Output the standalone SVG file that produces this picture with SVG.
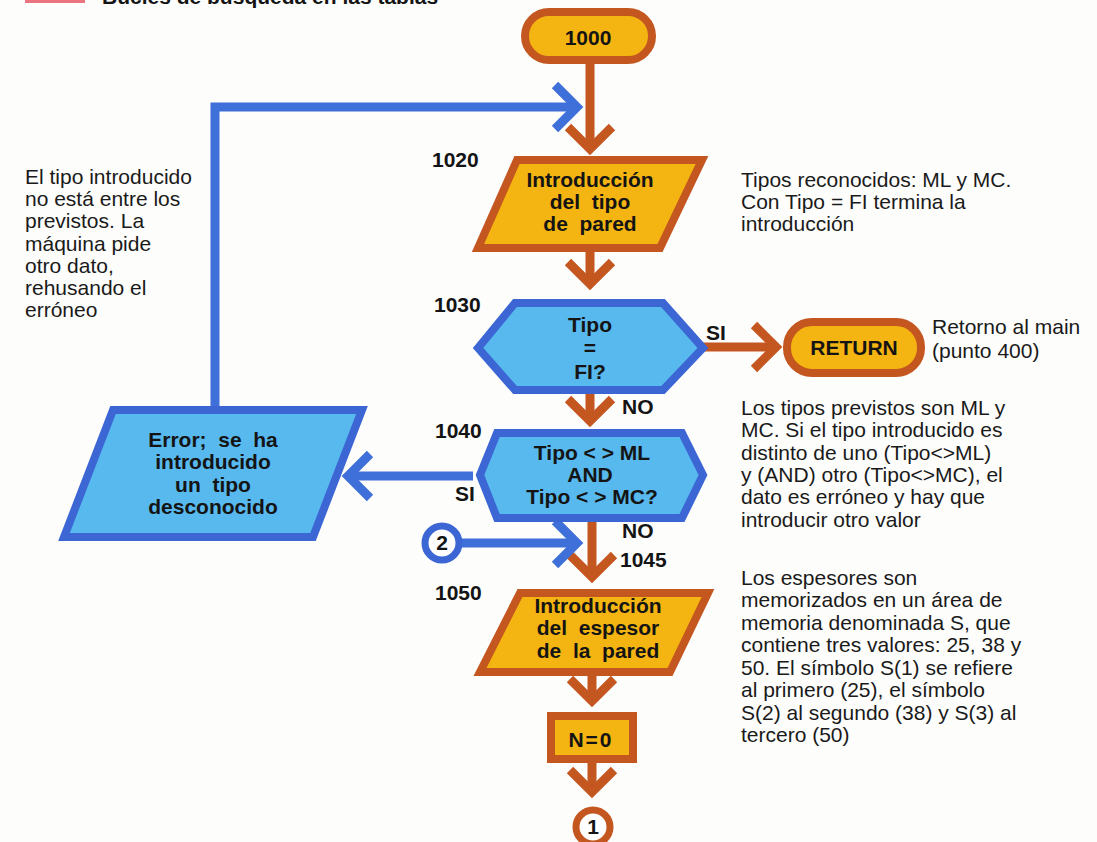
<svg xmlns="http://www.w3.org/2000/svg" width="1097" height="842" viewBox="0 0 1097 842">
  <defs>
    <style>
      .bg { fill: #fdfdfc; }
      .term { fill: #f4b512; stroke: #c4561f; stroke-width: 8; }
      .io { fill: #f4b512; stroke: #c4561f; stroke-width: 8; stroke-linejoin: miter; }
      .proc { fill: #f4b512; stroke: #c4561f; stroke-width: 8; }
      .dec { fill: #58b9ee; stroke: #3c66d4; stroke-width: 8; stroke-linejoin: miter; }
      .err { fill: #58b9ee; stroke: #3c66d4; stroke-width: 8; stroke-linejoin: miter; }
      .conn-b { fill: #ffffff; stroke: #c4561f; stroke-width: 7; }
      .conn-u { fill: #ffffff; stroke: #3c66d4; stroke-width: 7; }
      .flow { fill: none; stroke: #c4561f; stroke-width: 9; stroke-linejoin: miter; }
      .flow-blue { fill: none; stroke: #3f6fd8; stroke-width: 9; stroke-linejoin: miter; }
      .lbl { font-family: "Liberation Sans", Arial, sans-serif; font-weight: bold; font-size: 21px; fill: #141414; white-space: pre; }
      .ctr { text-anchor: middle; }
      .note { font-family: "Liberation Sans", Arial, sans-serif; font-size: 21px; fill: #1a1a1a; }
    </style>
    <marker id="head-brown" markerUnits="userSpaceOnUse" orient="auto" refX="0" refY="0" markerWidth="60" markerHeight="60" viewBox="-30 -30 60 60" overflow="visible">
      <path d="M-22,-22 L0,0 L-22,22" fill="none" stroke="#c4561f" stroke-width="9" stroke-linejoin="miter"/>
    </marker>
    <marker id="head-blue" markerUnits="userSpaceOnUse" orient="auto" refX="0" refY="0" markerWidth="60" markerHeight="60" viewBox="-30 -30 60 60" overflow="visible">
      <path d="M-22,-22 L0,0 L-22,22" fill="none" stroke="#3f6fd8" stroke-width="9" stroke-linejoin="miter"/>
    </marker>
  </defs>

  <rect class="bg" x="0" y="0" width="1097" height="842"/>

  <!-- page header, running off the top edge -->
  <g id="header">
    <rect x="25" y="-6" width="60" height="9" fill="#ea7480"/>
    <text class="lbl" x="102" y="4" font-size="20">Bucles de búsqueda en las tablas</text>
  </g>

  <!-- connectors -->
  <g id="connectors">
    <path class="flow" d="M590,60 L590,149" marker-end="url(#head-brown)"/>
    <path class="flow-blue" d="M215,410 L215,107 L577,107" marker-end="url(#head-blue)"/>
    <path class="flow" d="M590,248 L590,284" marker-end="url(#head-brown)"/>
    <path class="flow" d="M703,347 L776,347" marker-end="url(#head-brown)"/>
    <path class="flow" d="M590,390 L590,421" marker-end="url(#head-brown)"/>
    <path class="flow-blue" d="M473,476 L348,476" marker-end="url(#head-blue)"/>
    <path class="flow" d="M592,518 L592,577" marker-end="url(#head-brown)"/>
    <path class="flow-blue" d="M462,543 L577,543" marker-end="url(#head-blue)"/>
    <path class="flow" d="M592,672 L592,701" marker-end="url(#head-brown)"/>
    <path class="flow" d="M592,763 L592,792" marker-end="url(#head-brown)"/>
  </g>

  <!-- connector labels -->
  <g id="edge-labels">
    <text class="lbl" x="706" y="340">SI</text>
    <text class="lbl" x="622" y="414">NO</text>
    <text class="lbl" x="455" y="501">SI</text>
    <text class="lbl" x="622" y="538">NO</text>
  </g>

  <!-- line numbers -->
  <g id="line-numbers">
    <text class="lbl" x="432" y="167">1020</text>
    <text class="lbl" x="434" y="312">1030</text>
    <text class="lbl" x="435" y="438">1040</text>
    <text class="lbl" x="620" y="567">1045</text>
    <text class="lbl" x="435" y="600">1050</text>
  </g>

  <g id="n1000">
    <rect class="term" x="525" y="12" width="127" height="48" rx="24"/>
    <text class="lbl ctr" x="588" y="45">1000</text>
  </g>

  <g id="n1020">
    <polygon class="io" points="517,160 702,160 660,248 478,248"/>
    <text class="lbl ctr" x="590" y="187">Introducción</text>
    <text class="lbl ctr" x="590" y="209">del  tipo</text>
    <text class="lbl ctr" x="590" y="231">de  pared</text>
  </g>

  <g id="n1030">
    <polygon class="dec" points="478,348 515,303 663,303 703,348 663,390 515,390"/>
    <text class="lbl ctr" x="590" y="332">Tipo</text>
    <text class="lbl ctr" x="590" y="355" font-size="23">=</text>
    <text class="lbl ctr" x="590" y="379">FI?</text>
  </g>

  <g id="return">
    <rect class="term" x="787" y="322" width="134" height="51" rx="25"/>
    <text class="lbl ctr" x="854" y="355">RETURN</text>
  </g>

  <g id="n1040">
    <polygon class="dec" points="480,475 497,433 682,433 703,475 682,518 497,518"/>
    <text class="lbl ctr" x="592" y="460">Tipo &lt; &gt; ML</text>
    <text class="lbl ctr" x="590" y="482">AND</text>
    <text class="lbl ctr" x="592" y="504">Tipo &lt; &gt; MC?</text>
  </g>

  <g id="error">
    <polygon class="err" points="113,410 362,410 313,537 64,537"/>
    <text class="lbl ctr" x="213" y="447">Error;  se  ha</text>
    <text class="lbl ctr" x="213" y="469">introducido</text>
    <text class="lbl ctr" x="213" y="492">un  tipo</text>
    <text class="lbl ctr" x="213" y="514">desconocido</text>
  </g>

  <g id="c2">
    <circle class="conn-u" cx="442" cy="543" r="17"/>
    <text class="lbl ctr" x="442" y="550">2</text>
  </g>

  <g id="n1050">
    <polygon class="io" points="520,593 708,593 670,672 480,672"/>
    <text class="lbl ctr" x="598" y="613">Introducción</text>
    <text class="lbl ctr" x="598" y="635">del  espesor</text>
    <text class="lbl ctr" x="598" y="658">de  la  pared</text>
  </g>

  <g id="n0">
    <rect class="proc" x="551" y="716" width="82" height="43"/>
    <text class="lbl ctr" x="591" y="747" letter-spacing="2">N=0</text>
  </g>

  <g id="c1">
    <circle class="conn-b" cx="593" cy="827" r="17"/>
    <text class="lbl ctr" x="593" y="834">1</text>
  </g>

  <!-- side notes -->
  <g id="note-left">
    <text class="note" x="25" y="184">El tipo introducido</text>
    <text class="note" x="25" y="206">no está entre los</text>
    <text class="note" x="25" y="228">previstos. La</text>
    <text class="note" x="25" y="251">máquina pide</text>
    <text class="note" x="25" y="273">otro dato,</text>
    <text class="note" x="25" y="295">rehusando el</text>
    <text class="note" x="25" y="317">erróneo</text>
  </g>

  <g id="note-tipos">
    <text class="note" x="741" y="187">Tipos reconocidos: ML y MC.</text>
    <text class="note" x="741" y="209">Con Tipo = FI termina la</text>
    <text class="note" x="741" y="231">introducción</text>
  </g>

  <g id="note-return">
    <text class="note" x="932" y="334">Retorno al main</text>
    <text class="note" x="932" y="358">(punto 400)</text>
  </g>

  <g id="note-previstos">
    <text class="note" x="741" y="415">Los tipos previstos son ML y</text>
    <text class="note" x="741" y="437">MC. Si el tipo introducido es</text>
    <text class="note" x="741" y="460">distinto de uno (Tipo&lt;&gt;ML)</text>
    <text class="note" x="741" y="482">y (AND) otro (Tipo&lt;&gt;MC), el</text>
    <text class="note" x="741" y="504">dato es erróneo y hay que</text>
    <text class="note" x="741" y="527">introducir otro valor</text>
  </g>

  <g id="note-espesores">
    <text class="note" x="741" y="585">Los espesores son</text>
    <text class="note" x="741" y="607">memorizados en un área de</text>
    <text class="note" x="741" y="630">memoria denominada S, que</text>
    <text class="note" x="741" y="652">contiene tres valores: 25, 38 y</text>
    <text class="note" x="741" y="675">50. El símbolo S(1) se refiere</text>
    <text class="note" x="741" y="697">al primero (25), el símbolo</text>
    <text class="note" x="741" y="720">S(2) al segundo (38) y S(3) al</text>
    <text class="note" x="741" y="742">tercero (50)</text>
  </g>
</svg>
